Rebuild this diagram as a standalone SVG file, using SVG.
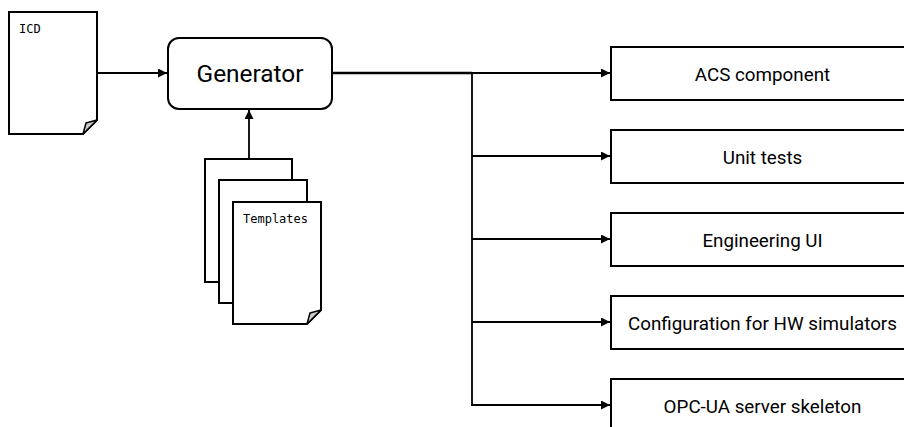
<svg xmlns="http://www.w3.org/2000/svg" width="904" height="427" viewBox="0 0 904 427">
<defs>
<style>
.doc{fill:#fff;stroke:#000;stroke-width:2}
.fold{fill:#ccc;stroke:#000;stroke-width:1.5;stroke-linejoin:round}
.box{fill:#fff;stroke:#000;stroke-width:2}
.mono{font-family:"DejaVu Sans Mono","Liberation Mono",monospace;font-size:12px;fill:#000}
.lbl{font-family:Roboto,"Liberation Sans",sans-serif;font-size:18.8px;fill:#000;text-anchor:middle}
.gen{font-family:Roboto,"Liberation Sans",sans-serif;font-size:24.4px;fill:#000;text-anchor:middle}
.conn{fill:none;stroke:#000;stroke-width:1.8}
</style>
<marker id="arr" viewBox="0 0 10 10" refX="10" refY="5" markerWidth="11" markerHeight="9" markerUnits="userSpaceOnUse" orient="auto">
<path d="M0,0 L10,5 L0,10 Z" fill="#000"/>
</marker>
</defs>
<rect width="904" height="427" fill="#fff"/>

<g id="icd">
<path class="doc" d="M9,12 H97 V120 L83,134 H9 Z"/>
<path class="fold" d="M97,120 L86,123 L83,134 Z"/>
<text class="mono" x="19" y="33">ICD</text>
</g>

<g id="generator">
<rect class="box" x="168" y="38" width="164" height="71" rx="11"/>
<text class="gen" x="250" y="82">Generator</text>
</g>

<g id="templates">
<rect class="doc" x="205" y="159" width="87" height="123"/>
<rect class="doc" x="219" y="180" width="88" height="123"/>
<path class="doc" d="M233,202 H321 V310 L307,324 H233 Z"/>
<path class="fold" d="M321,310 L310,313 L307,324 Z"/>
<text class="mono" x="243" y="223">Templates</text>
</g>

<g id="acs"><rect class="box" x="611" y="47" width="304" height="53"/><text class="lbl" x="762.5" y="80.5">ACS component</text></g>
<g id="unittests"><rect class="box" x="611" y="130" width="304" height="53"/><text class="lbl" x="762.5" y="163.5">Unit tests</text></g>
<g id="engui"><rect class="box" x="611" y="213" width="304" height="53"/><text class="lbl" x="762.5" y="246.5">Engineering UI</text></g>
<g id="config"><rect class="box" x="611" y="296" width="304" height="53"/><text class="lbl" x="762.5" y="329.5">Configuration for HW simulators</text></g>
<g id="opcua"><rect class="box" x="611" y="379" width="304" height="53"/><text class="lbl" x="762.5" y="412.5">OPC-UA server skeleton</text></g>

<g id="connectors">
<path class="conn" d="M97,73 H167" marker-end="url(#arr)"/>
<path class="conn" d="M249,159 V110" marker-end="url(#arr)"/>
<path fill="none" stroke="#000" stroke-width="2.6" d="M332,73 H472"/>
<path class="conn" d="M472,73 V405"/>
<path class="conn" d="M472,73 H610" marker-end="url(#arr)"/>
<path class="conn" d="M472,156 H610" marker-end="url(#arr)"/>
<path class="conn" d="M472,239 H610" marker-end="url(#arr)"/>
<path class="conn" d="M472,322 H610" marker-end="url(#arr)"/>
<path class="conn" d="M471,405 H610" marker-end="url(#arr)"/>
</g>
</svg>
